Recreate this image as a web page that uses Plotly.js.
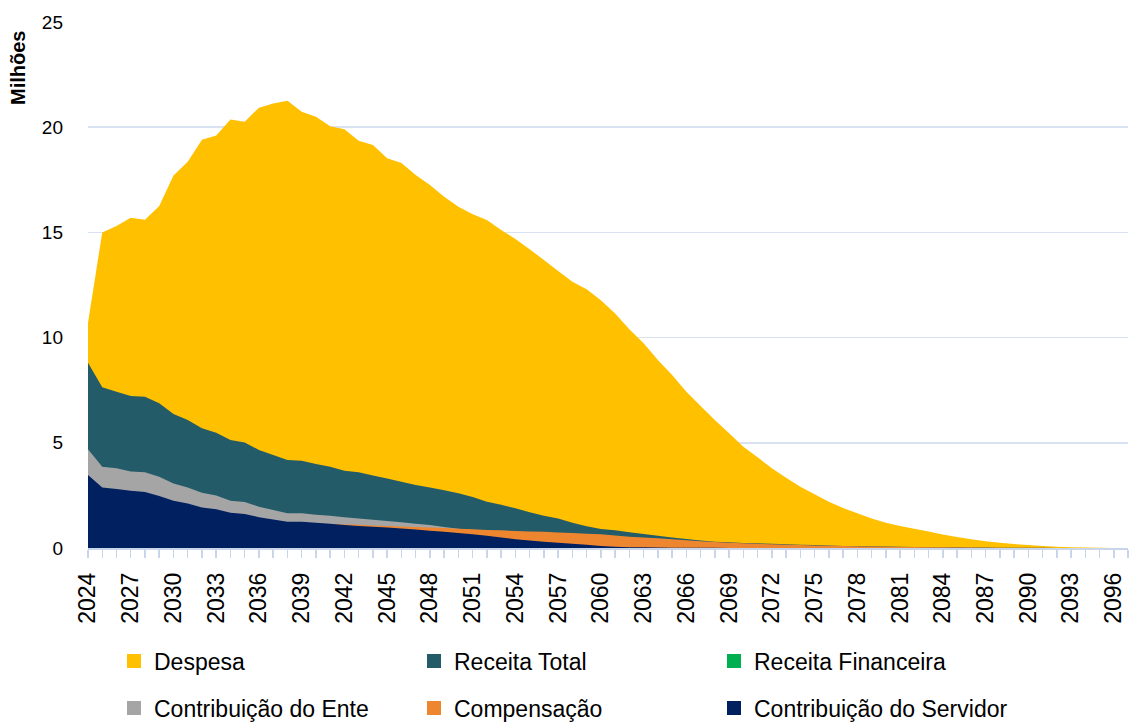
<!DOCTYPE html>
<html>
<head>
<meta charset="utf-8">
<script src="https://cdn.plot.ly/plotly-3.0.1.min.js"></script>
<style>html,body{margin:0;padding:0;background:#fff;}#chart{width:1131px;height:722px;}</style>
</head>
<body>
<div id="chart"></div>
<script>
var years = [];
for (var yy = 2024; yy <= 2097; yy++) years.push(yy);

var despesa = [10.7,15.0,15.3,15.7,15.6,16.25,17.7,18.36,19.4,19.6,20.37,20.26,20.93,21.13,21.26,20.74,20.5,20.05,19.9,19.36,19.15,18.52,18.3,17.73,17.25,16.7,16.22,15.86,15.59,15.11,14.69,14.2,13.69,13.17,12.66,12.3,11.78,11.15,10.4,9.73,8.94,8.22,7.43,6.75,6.08,5.45,4.81,4.31,3.79,3.34,2.91,2.55,2.2,1.9,1.65,1.4,1.2,1.05,0.92,0.78,0.64,0.52,0.42,0.32,0.25,0.19,0.14,0.1,0.06,0.04,0.02,0.01,0.005,0];

var receitaTotal = [8.8,7.64,7.43,7.22,7.19,6.88,6.37,6.08,5.69,5.48,5.13,5.02,4.66,4.42,4.18,4.15,3.99,3.86,3.67,3.6,3.44,3.3,3.15,3.0,2.88,2.75,2.6,2.42,2.2,2.05,1.89,1.7,1.53,1.4,1.2,1.03,0.9,0.84,0.75,0.67,0.58,0.5,0.43,0.36,0.3,0.27,0.24,0.22,0.2,0.18,0.16,0.14,0.12,0.1,0.09,0.08,0.07,0.06,0.05,0.04,0.035,0.03,0.025,0.02,0.015,0.01,0.008,0.006,0.004,0.003,0.002,0.001,0,0];

var receitaFinanceira = [0,0,0,0,0,0,0,0,0,0,0,0,0,0,0,0,0,0,0,0,0,0,0,0,0,0,0,0,0,0,0,0,0,0,0,0,0,0,0,0,0,0,0,0,0,0,0,0,0,0,0,0,0,0,0,0,0,0,0,0,0,0,0,0,0,0,0,0,0,0,0,0,0,0];

var contribEnte = [4.69,3.86,3.79,3.63,3.6,3.39,3.07,2.88,2.63,2.49,2.25,2.19,1.96,1.81,1.65,1.65,1.58,1.53,1.46,1.4,1.34,1.28,1.22,1.15,1.09,1.0,0.92,0.85,0.78,0.72,0.65,0.58,0.52,0.46,0.4,0.35,0.3,0.26,0.22,0.19,0.16,0.13,0.11,0.09,0.07,0.06,0.05,0.04,0.03,0.025,0.02,0.015,0.01,0.008,0.006,0.004,0.003,0.002,0.002,0.001,0.001,0,0,0,0,0,0,0,0,0,0,0,0,0];

var compensacao = [0.55,0.6,0.64,0.68,0.72,0.76,0.8,0.84,0.88,0.92,0.96,1.0,1.04,1.08,1.11,1.13,1.14,1.14,1.12,1.1,1.07,1.04,1.02,1.0,0.98,0.95,0.92,0.89,0.86,0.84,0.81,0.79,0.77,0.74,0.71,0.68,0.65,0.6,0.54,0.5,0.46,0.41,0.37,0.32,0.28,0.25,0.23,0.2,0.18,0.16,0.14,0.12,0.11,0.09,0.08,0.07,0.06,0.05,0.045,0.04,0.03,0.025,0.02,0.015,0.012,0.01,0.008,0.006,0.004,0.003,0.002,0.001,0,0];

var contribServidor = [3.47,2.88,2.8,2.72,2.66,2.47,2.25,2.12,1.93,1.84,1.68,1.62,1.46,1.36,1.25,1.25,1.2,1.15,1.09,1.05,1.01,0.98,0.93,0.88,0.82,0.77,0.71,0.65,0.58,0.5,0.42,0.36,0.3,0.25,0.2,0.15,0.1,0.06,0.04,0.03,0.02,0.015,0.01,0.008,0.006,0.004,0.003,0.002,0.001,0,0,0,0,0,0,0,0,0,0,0,0,0,0,0,0,0,0,0,0,0,0,0,0,0];

var seriesNames = ['Despesa','Receita Total','Receita Financeira','Contribuição do Ente','Compensação','Contribuição do Servidor'];
var seriesData = [despesa, receitaTotal, receitaFinanceira, contribEnte, compensacao, contribServidor];
var seriesColors = ['#FFC000','#235B69','#00B050','#A5A5A5','#EE8630','#002060'];

var tickText = years.map(function(y, i){ return (i % 3 === 0) ? String(y) : ''; });

var traces = [];
for (var i = 0; i < seriesNames.length; i++) {
  traces.push({
    type: 'scatter', mode: 'none', x: years, y: seriesData[i],
    fill: 'tozeroy', fillcolor: seriesColors[i],
    line: {width: 0, color: seriesColors[i]},
    showlegend: false, hoverinfo: 'skip'
  });
}
for (var j = 0; j < seriesNames.length; j++) {
  traces.push({
    type: 'scatter', mode: 'markers', x: [null], y: [null],
    name: seriesNames[j],
    marker: {symbol: 'square', size: 14, color: seriesColors[j]},
    showlegend: true,
    legend: j < 3 ? 'legend' : 'legend2'
  });
}

var legendFont = {family: 'Liberation Sans, Arial, sans-serif', size: 23, color: '#000'};
var layout = {
  width: 1131, height: 722,
  margin: {l: 88, r: 3, t: 22, b: 174},
  paper_bgcolor: '#fff', plot_bgcolor: '#fff',
  font: {family: 'Liberation Sans, Arial, sans-serif', color: '#000'},
  xaxis: {
    range: [2024, 2097], tickmode: 'array', tickvals: years, ticktext: tickText,
    tickangle: -90, ticks: 'outside', ticklen: 8, tickcolor: '#c9d6ea', tickwidth: 1.5,
    showline: true, linecolor: '#c9d6ea', linewidth: 1.5,
    showgrid: false, zeroline: false,
    tickfont: {size: 23, color: '#000'}, ticklabelstandoff: 6
  },
  yaxis: {
    range: [0, 25], tickvals: [0,5,10,15,20,25], ticks: '',
    showgrid: true, gridcolor: '#d9e2f2', gridwidth: 1.5,
    zeroline: false, showline: false,
    tickfont: {size: 19, color: '#000'}, ticklabelstandoff: 24
  },
  legend: {
    orientation: 'h', xref: 'container', yref: 'container',
    x: 114/1131, y: 1 - 661/722, xanchor: 'left', yanchor: 'middle',
    entrywidth: 255, entrywidthmode: 'pixels',
    font: legendFont, bgcolor: 'rgba(0,0,0,0)', traceorder: 'normal'
  },
  legend2: {
    orientation: 'h', xref: 'container', yref: 'container',
    x: 114/1131, y: 1 - 708/722, xanchor: 'left', yanchor: 'middle',
    entrywidth: 255, entrywidthmode: 'pixels',
    font: legendFont, bgcolor: 'rgba(0,0,0,0)', traceorder: 'normal'
  },
  annotations: [{
    text: '<b>Milhões</b>', textangle: -90, showarrow: false,
    xref: 'paper', yref: 'paper', x: (18 - 88) / 1040, y: (548 - 68) / 526,
    xanchor: 'center', yanchor: 'middle',
    font: {family: 'Liberation Sans, Arial, sans-serif', size: 20, color: '#000'}
  }]
};

Plotly.newPlot('chart', traces, layout, {displayModeBar: false, staticPlot: true});
</script>
</body>
</html>
